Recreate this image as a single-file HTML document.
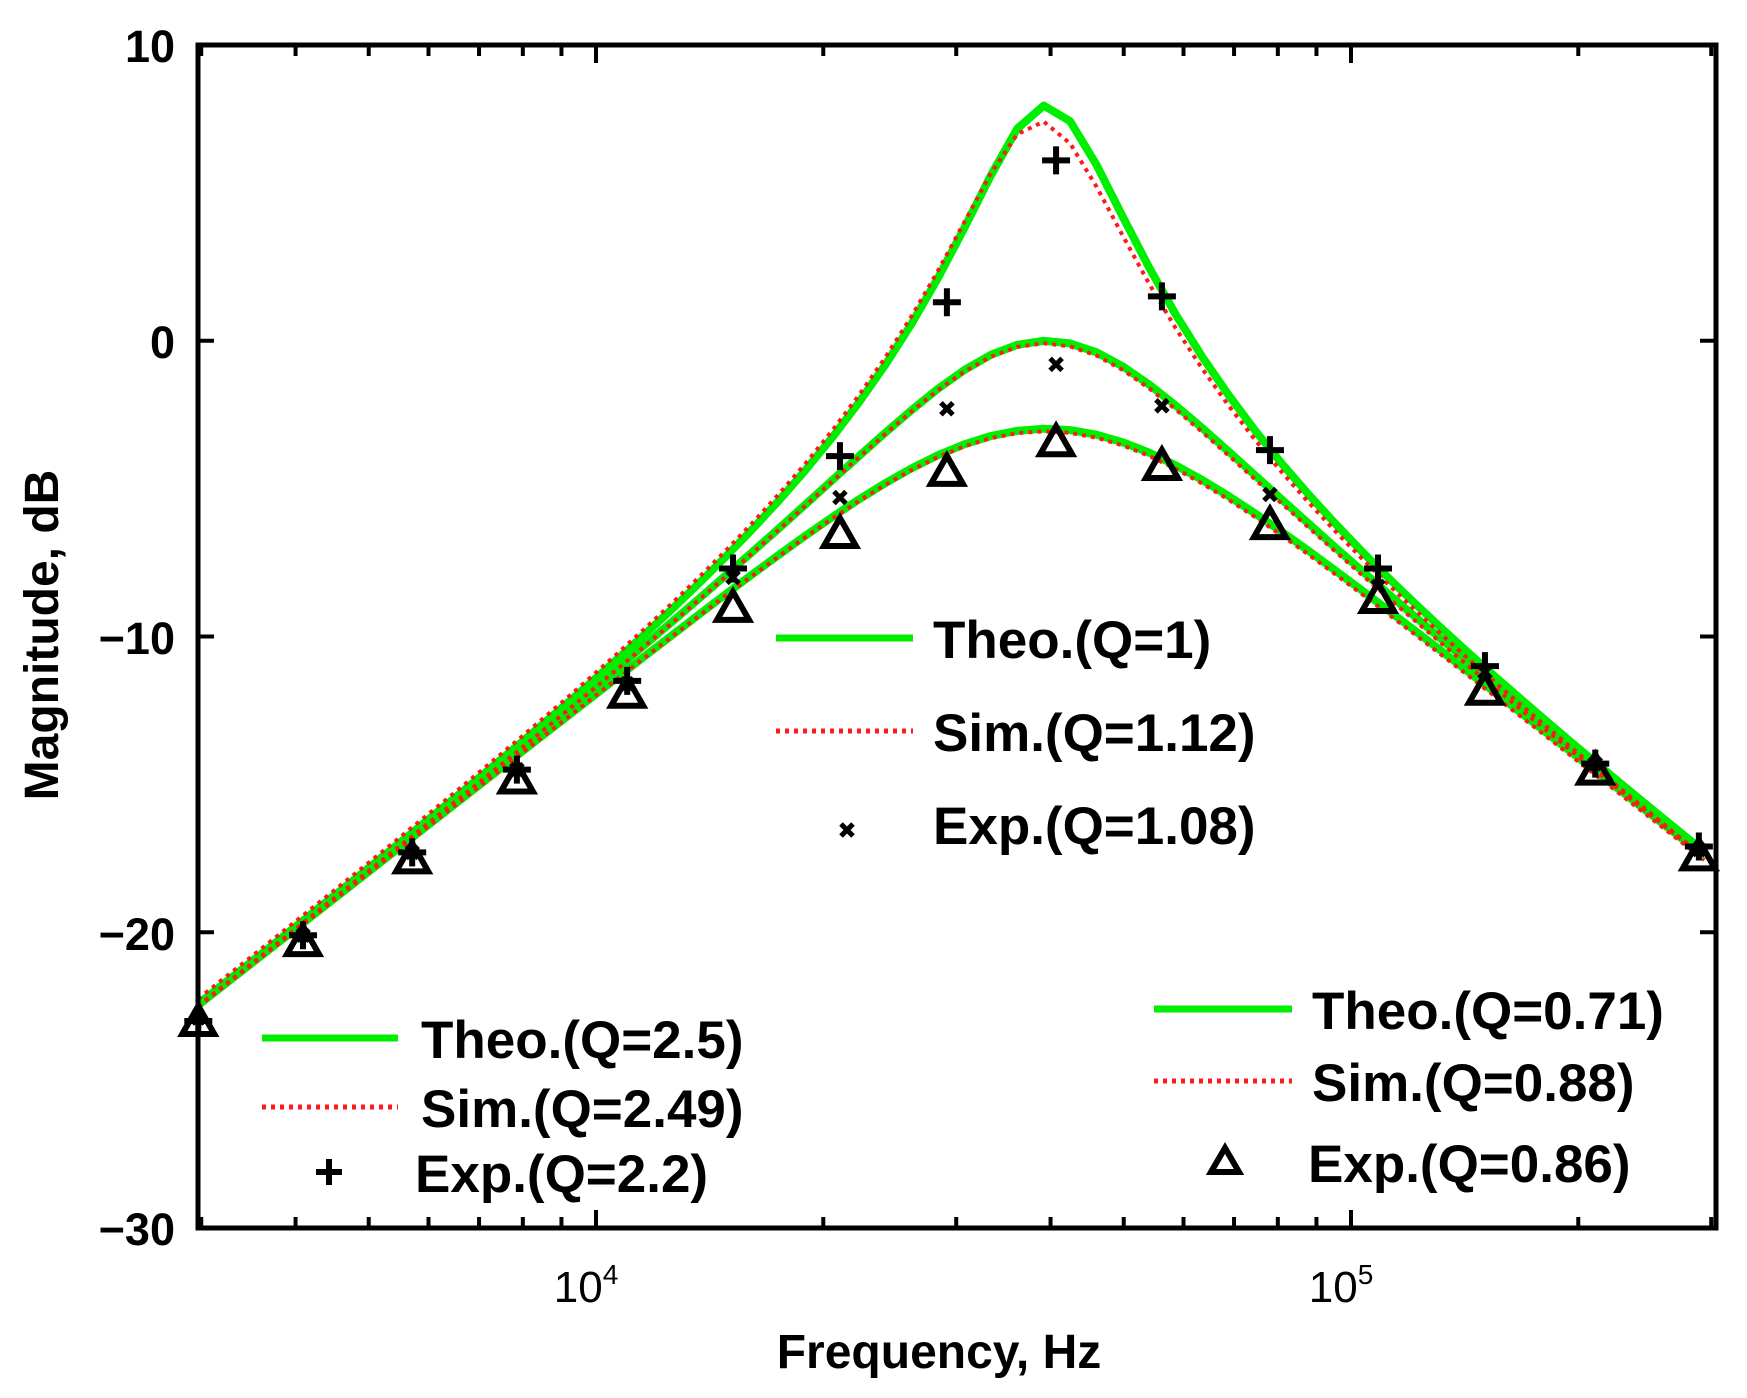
<!DOCTYPE html>
<html><head><meta charset="utf-8"><style>
html,body{margin:0;padding:0;background:#fff;}
svg text{font-family:"Liberation Sans",Arial,sans-serif;}
</style></head><body>
<svg id="s" width="1747" height="1393" viewBox="0 0 1747 1393" xmlns="http://www.w3.org/2000/svg">
<g id="curves"></g>
<g id="marks" stroke="#000" fill="none" stroke-width="6"></g>
<rect x="198" y="45" width="1518" height="1183" fill="none" stroke="#000" stroke-width="5"/>
<g id="ticks" stroke="#000" stroke-width="4"></g>
<g font-size="45" font-weight="bold" text-anchor="end" fill="#000">
<text x="175" y="62">10</text>
<text x="175" y="358">0</text>
<text x="175" y="654">−10</text>
<text x="175" y="950">−20</text>
<text x="175" y="1245">−30</text>
</g>
<text x="586" y="1302" font-size="44" text-anchor="middle">10<tspan font-size="28" dy="-18">4</tspan></text>
<text x="1341" y="1302" font-size="44" text-anchor="middle">10<tspan font-size="28" dy="-18">5</tspan></text>
<text x="939" y="1368" font-size="48" font-weight="bold" text-anchor="middle">Frequency, Hz</text>
<text transform="translate(58,635) rotate(-90)" font-size="48" font-weight="bold" text-anchor="middle">Magnitude, dB</text>
<g font-size="53" font-weight="bold" fill="#000">
<line x1="776" y1="638" x2="913" y2="638" stroke="#00ee00" stroke-width="7"/>
<text x="933" y="658">Theo.(Q=1)</text>
<line x1="776" y1="731" x2="913" y2="731" stroke="#ff1a1a" stroke-width="5" stroke-dasharray="4,5"/>
<text x="933" y="751">Sim.(Q=1.12)</text>
<text x="933" y="844">Exp.(Q=1.08)</text>
<line x1="262" y1="1038" x2="398" y2="1038" stroke="#00ee00" stroke-width="7"/>
<text x="421" y="1058">Theo.(Q=2.5)</text>
<line x1="262" y1="1107" x2="398" y2="1107" stroke="#ff1a1a" stroke-width="5" stroke-dasharray="4,5"/>
<text x="421" y="1127">Sim.(Q=2.49)</text>
<text x="415" y="1192">Exp.(Q=2.2)</text>
<line x1="1154" y1="1009" x2="1292" y2="1009" stroke="#00ee00" stroke-width="7"/>
<text x="1312" y="1029">Theo.(Q=0.71)</text>
<line x1="1154" y1="1081" x2="1292" y2="1081" stroke="#ff1a1a" stroke-width="5" stroke-dasharray="4,5"/>
<text x="1312" y="1101">Sim.(Q=0.88)</text>
<text x="1308" y="1182">Exp.(Q=0.86)</text>
</g>
<g stroke="#000" stroke-width="6" fill="none">
<path d="M841,824 l12,12 M853,824 l-12,12" stroke-width="5"/>
<path d="M316,1172 h26 M329,1159 v26"/>
<path d="M1211,1172 l14,-24 l14,24 z"/>
</g>
</svg>
<script>
var X0=198,X1=1716,Y0=45,Y1=1228;
function fx(f){return 596+(Math.log10(f)-4)*755;}
function fy(d){return Y0+(10-d)*29.575;}
var f0=39500;
function mag(f,Q,k){var u=f/f0;return 20*Math.log10(k*u/Math.sqrt((1-u*u)*(1-u*u)+u*u/(Q*Q)));}
var cg=document.getElementById('curves');
function curve(Q,k,dash,fs){var p=[];for(var l=3.473;l<=5.484;l+=0.035){var f=Math.pow(10,l);p.push(fx(f).toFixed(1)+','+fy(mag(f*fs,Q,k)).toFixed(1));}
var e=document.createElementNS('http://www.w3.org/2000/svg','polyline');e.setAttribute('points',p.join(' '));e.setAttribute('fill','none');
if(dash){e.setAttribute('stroke','#ff1a1a');e.setAttribute('stroke-width','4');e.setAttribute('stroke-dasharray','4,5');}else{e.setAttribute('stroke','#00ee00');e.setAttribute('stroke-width','8');}
e.setAttribute('stroke-linejoin','round');cg.appendChild(e);}
[[2.5,1],[1,1],[0.71,1]].forEach(function(a){curve(a[0],a[1],false,1);});
[[2.35,1,1.02],[1,0.99,1.005],[0.71,0.99,1.005]].forEach(function(a){curve(a[0],a[1],true,a[2]);});
var xs=[178,272,370,464,563,658,754,850,948,1043,1140,1237,1333,1432,1525].map(function(v){return v*1.114;});
var tri=[-23,-20.3,-17.5,-14.8,-11.9,-9,-6.5,-4.4,-3.4,-4.2,-6.2,-8.7,-11.8,-14.5,-17.4];
var crs=[-22.9,-20.1,-17.3,-14.5,-11.6,-8,-5.3,-2.3,-0.8,-2.2,-5.2,-8.3,-11.2,-14.3,-17.2];
var pls=[-23,-20.1,-17.3,-14.5,-11.5,-7.7,-3.9,1.3,6.1,1.5,-3.7,-7.7,-11,-14.3,-17.1];
var mg=document.getElementById('marks'),h='';
for(var i=0;i<15;i++){var x=xs[i];
var y=fy(tri[i]);h+='<path d="M'+(x-16)+','+(y+13)+' l16,-28 l16,28 z"/>';
y=fy(crs[i]);h+='<path stroke-width="5" d="M'+(x-6)+','+(y-6)+' l12,12 M'+(x+6)+','+(y-6)+' l-12,12"/>';
y=fy(pls[i]);h+='<path d="M'+(x-14)+','+y+' h28 M'+x+','+(y-14)+' v28"/>';}
mg.innerHTML=h;
var tg=document.getElementById('ticks'),t='';
[10,0,-10,-20].forEach(function(d){var y=fy(d);t+='<line x1="198" y1="'+y+'" x2="214" y2="'+y+'"/><line x1="1700" y1="'+y+'" x2="1716" y2="'+y+'"/>';});
for(var e=3;e<=5;e++)for(var m=1;m<10;m++){var f=m*Math.pow(10,e);var x=fx(f);if(x<=X0+2||x>=X1-2)continue;var L=(m==1)?18:11;
t+='<line x1="'+x+'" y1="1228" x2="'+x+'" y2="'+(1228-L)+'"/><line x1="'+x+'" y1="45" x2="'+x+'" y2="'+(45+L)+'"/>';}
tg.innerHTML=t;
</script>
</body></html>
